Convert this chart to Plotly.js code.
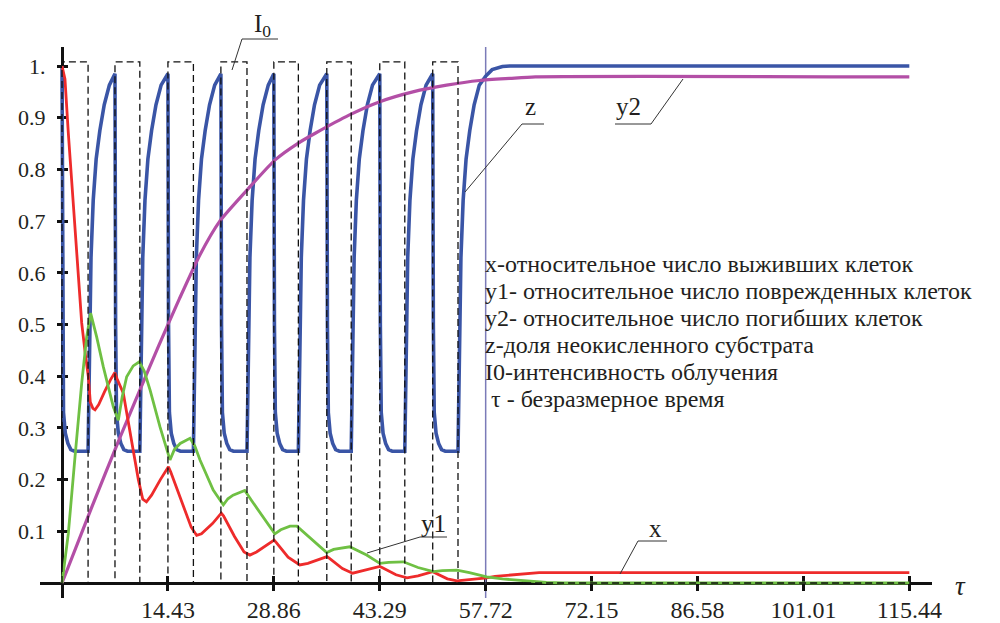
<!DOCTYPE html>
<html>
<head>
<meta charset="utf-8">
<script src="https://cdn.plot.ly/plotly-3.0.1.min.js"></script>
<style>html,body{margin:0;padding:0;background:#fff;}#chart{width:1000px;height:623px;}</style>
</head>
<body>
<div id="chart"></div>
<script>
// ---- data ----
const onStart = [0, 7.215, 14.43, 21.645, 28.86, 36.075, 43.29, 50.505];
const onEnd   = [3.55, 10.6, 17.9, 25.2, 32.2, 39.4, 46.7, 53.95];
const tauEnd = 115.44;
const i0Level = 1.008;

const zT = [0,0.08,0.2,0.45,0.8,1.2,1.7,3.55,3.63,3.75,3.95,4.25,4.65,5.15,5.75,6.45,7.215,
  7.3,7.42,7.67,8.02,8.42,8.92,10.6,10.68,10.8,11.0,11.3,11.7,12.2,12.8,13.5,14.43,
  14.51,14.63,14.88,15.23,15.63,16.13,17.9,17.98,18.1,18.3,18.6,19.0,19.5,20.1,20.8,21.645,
  21.73,21.85,22.1,22.45,22.85,23.35,25.2,25.28,25.4,25.6,25.9,26.3,26.8,27.4,28.1,28.86,
  28.94,29.06,29.31,29.66,30.06,30.56,32.2,32.28,32.4,32.6,32.9,33.3,33.8,34.4,35.1,36.075,
  36.16,36.28,36.53,36.88,37.28,37.78,39.4,39.48,39.6,39.8,40.1,40.5,41.0,41.6,42.3,43.29,
  43.37,43.49,43.74,44.09,44.49,44.99,46.7,46.78,46.9,47.1,47.4,47.8,48.3,48.9,49.6,50.505,
  50.59,50.71,50.96,51.31,51.71,52.21,53.95,54.03,54.15,54.35,54.65,55.05,55.55,56.15,56.85,57.7,58.6,60.0,61.0,115.44];
const zV = [1.0,0.5,0.33,0.29,0.27,0.258,0.255,0.255,0.34,0.5,0.63,0.74,0.82,0.875,0.925,0.963,0.985,
  0.5,0.33,0.29,0.27,0.258,0.255,0.255,0.34,0.5,0.63,0.74,0.82,0.875,0.925,0.963,0.985,
  0.5,0.33,0.29,0.27,0.258,0.255,0.255,0.34,0.5,0.63,0.74,0.82,0.875,0.925,0.963,0.985,
  0.5,0.33,0.29,0.27,0.258,0.255,0.255,0.34,0.5,0.63,0.74,0.82,0.875,0.925,0.963,0.985,
  0.5,0.33,0.29,0.27,0.258,0.255,0.255,0.34,0.5,0.63,0.74,0.82,0.875,0.925,0.963,0.985,
  0.5,0.33,0.29,0.27,0.258,0.255,0.255,0.34,0.5,0.63,0.74,0.82,0.875,0.925,0.963,0.985,
  0.5,0.33,0.29,0.27,0.258,0.255,0.255,0.34,0.5,0.63,0.74,0.82,0.875,0.925,0.963,0.985,
  0.5,0.33,0.29,0.27,0.258,0.255,0.255,0.34,0.5,0.63,0.74,0.82,0.875,0.925,0.963,0.98,0.993,0.999,1.0,1.0];

const xT = [0,0.4,0.86,1.32,1.8,2.22,2.68,3.2,3.58,3.85,4.2,4.5,5.0,5.8,6.6,7.2,7.5,8.35,9.0,9.7,10.4,11.0,11.5,12.2,13.4,14.5,14.8,16.5,17.6,18.35,19.0,20.5,21.7,22.0,23.5,24.8,25.6,26.5,28.9,29.2,30.8,32.4,33.5,36.1,36.4,38.2,39.6,41.0,43.3,43.6,45.5,47.0,48.5,50.5,50.8,52.5,53.8,55.5,57.86,59.0,62.0,65.0,115.44];
const xV = [1.0,0.975,0.87,0.775,0.69,0.59,0.503,0.44,0.40,0.35,0.338,0.335,0.345,0.37,0.393,0.407,0.395,0.367,0.31,0.257,0.2,0.162,0.157,0.17,0.2,0.225,0.215,0.15,0.108,0.092,0.095,0.115,0.135,0.13,0.09,0.06,0.054,0.06,0.083,0.078,0.05,0.035,0.038,0.051,0.048,0.028,0.019,0.024,0.032,0.03,0.016,0.01,0.014,0.022,0.02,0.008,0.004,0.006,0.01,0.013,0.017,0.02,0.02];

const y1T = [0,0.86,1.77,2.68,3.36,3.9,4.72,5.63,6.99,7.67,8.2,8.81,9.7,10.53,11.2,12.0,13.35,14.71,15.3,16.1,17.44,18.1,18.8,20.6,21.98,22.6,23.3,24.9,25.8,27.0,29.0,29.8,31.06,32.0,34.2,36.06,37.0,39.2,41.5,43.3,44.5,46.5,48.5,50.6,51.8,53.8,55.5,57.86,60.0,63.0,66.0,68.3,115.44];
const y1V = [0,0.096,0.244,0.386,0.476,0.522,0.476,0.418,0.341,0.315,0.36,0.399,0.42,0.428,0.41,0.373,0.302,0.238,0.258,0.27,0.28,0.265,0.238,0.18,0.151,0.163,0.17,0.179,0.16,0.135,0.095,0.103,0.11,0.11,0.083,0.059,0.065,0.07,0.054,0.038,0.04,0.041,0.03,0.022,0.024,0.025,0.02,0.012,0.008,0.004,0.001,0,0];

const y2T = [0,4,8,12,14.43,16,18.8,21.5,25.2,29,32.2,34.5,39.1,43.3,47.8,52.4,56.9,61,64.5,115.44];
const y2V = [0,0.145,0.285,0.42,0.5,0.55,0.635,0.7,0.76,0.818,0.851,0.87,0.905,0.931,0.95,0.963,0.972,0.976,0.979,0.979];

const markTau = 57.72;
const xTickVals = [14.43, 28.86, 43.29, 57.72, 72.15, 86.58, 101.01, 115.44];
const xTickText = ['14.43','28.86','43.29','57.72','72.15','86.58','101.01','115.44'];
const yTickVals = [0.1,0.2,0.3,0.4,0.5,0.6,0.7,0.8,0.9,1.0];
const yTickText = ['0.1','0.2','0.3','0.4','0.5','0.6','0.7','0.8','0.9','1.'];

const legendLines = [
  'x-относительное число выживших клеток',
  'y1- относительное число поврежденных клеток',
  'y2- относительное число погибших клеток',
  'z-доля неокисленного субстрата',
  'I0-интенсивность облучения',
  'τ - безразмерное время'
];

// ---- build I0 square wave from on/off times ----
const i0T = [], i0V = [];
for (let k = 0; k < onStart.length; k++) {
  i0T.push(onStart[k], onStart[k], onEnd[k], onEnd[k]);
  i0V.push(0, i0Level, i0Level, 0);
}
i0T.push(tauEnd); i0V.push(0);

const XR = [-3.0, 118.53];
const YR = [-0.029, 1.0368];
const xPos = 0.0272, yPos = 0.02466;
const SERIF = 'Liberation Serif';

const traces = [
  {x:[markTau, markTau], y:[YR[0], YR[1]], mode:'lines', line:{color:'#7b7bb8', width:1.5}, hoverinfo:'skip'},
  {x:zT, y:zV, mode:'lines', line:{color:'#3a55a6', width:3.6}, name:'z'},
  {x:y2T, y:y2V, mode:'lines', line:{color:'#b34fa6', width:3.2, shape:'spline', smoothing:0.6}, name:'y2'},
  {x:xT, y:xV, mode:'lines', line:{color:'#ee2b2b', width:2.8}, name:'x'},
  {x:y1T, y:y1V, mode:'lines', line:{color:'#6fc043', width:2.8}, name:'y1'},
  {x:i0T, y:i0V, mode:'lines', line:{color:'#111', width:1.3, dash:'7px,4px'}, name:'I0'},
  {x:[0], y:[0], xaxis:'x2', yaxis:'y2', mode:'markers', marker:{opacity:0}, showlegend:false, hoverinfo:'skip'}
];

const legendY = [264, 291, 318, 345, 372, 399];
const legendX = [483, 483, 483, 483, 483, 489];
const px2x = p => (p - 40) / 892;
const px2y = p => (598 - p) / 551;

const annotations = legendLines.map((t, i) => ({
  text: t, xref:'paper', yref:'paper', x: px2x(legendX[i]), y: px2y(legendY[i]),
  xanchor:'left', yanchor:'middle', showarrow:false,
  font:{family:SERIF, size:24, color:'#231f20'}
}));
const labels = [
  {t:'I<sub>0</sub>', x:262, y:26},
  {t:'z', x:530, y:106},
  {t:'y2', x:628, y:106},
  {t:'y1', x:433, y:523},
  {t:'x', x:655, y:528}
];
labels.forEach(l => annotations.push({text:l.t, xref:'paper', yref:'paper', x:px2x(l.x), y:px2y(l.y),
  xanchor:'center', yanchor:'middle', showarrow:false, font:{family:SERIF, size:25, color:'#231f20'}}));
annotations.push({text:'<i>τ</i>', xref:'paper', yref:'paper', x:px2x(960), y:px2y(586),
  xanchor:'center', yanchor:'middle', showarrow:false, font:{family:SERIF, size:27, color:'#231f20'}});

const leaders = [
  [[232,70],[242,39],[278,39]],
  [[465,192],[522,124],[544,124]],
  [[683,79],[651,124],[615,124]],
  [[367,553],[420,537],[447,537]],
  [[620,574],[638,541],[667,541]]
];
const shapes = leaders.map(pts => ({
  type:'path', xref:'paper', yref:'paper',
  path: pts.map((p, i) => (i ? 'L' : 'M') + px2x(p[0]) + ',' + px2y(p[1])).join(' '),
  line:{color:'#333', width:1}
}));

const axCommon = {showgrid:false, zeroline:false, fixedrange:true};
const layout = {
  width:1000, height:623,
  margin:{l:40, r:68, t:47, b:25},
  paper_bgcolor:'#fff', plot_bgcolor:'rgba(0,0,0,0)',
  showlegend:false,
  font:{family:SERIF, color:'#231f20'},
  xaxis: Object.assign({}, axCommon, {
    range:XR, anchor:'free', position:xPos, showline:true, linecolor:'#111', linewidth:3,
    ticks:'inside', ticklen:6, tickwidth:3, tickcolor:'#111',
    tickvals:xTickVals, ticktext:xTickText, tickfont:{family:SERIF, size:24, color:'#231f20'},
    ticklabelstandoff:4, layer:'below traces'
  }),
  yaxis: Object.assign({}, axCommon, {
    range:YR, anchor:'free', position:yPos, showline:true, linecolor:'#111', linewidth:3,
    ticks:'inside', ticklen:4, tickwidth:3, tickcolor:'#111',
    tickvals:yTickVals, ticktext:yTickText, tickfont:{family:SERIF, size:22, color:'#231f20'},
    ticklabelstandoff:11, layer:'below traces'
  }),
  xaxis2: Object.assign({}, axCommon, {
    range:XR, overlaying:'x', anchor:'free', position:xPos, showline:false,
    ticks:'outside', ticklen:7, tickwidth:3, tickcolor:'#111', tickvals:xTickVals, showticklabels:false
  }),
  yaxis2: Object.assign({}, axCommon, {
    range:YR, overlaying:'y', anchor:'free', position:yPos, showline:false,
    ticks:'outside', ticklen:5, tickwidth:3, tickcolor:'#111', tickvals:yTickVals, showticklabels:false
  }),
  annotations, shapes
};

Plotly.newPlot('chart', traces, layout, {staticPlot:true, displayModeBar:false});
</script>
</body>
</html>
